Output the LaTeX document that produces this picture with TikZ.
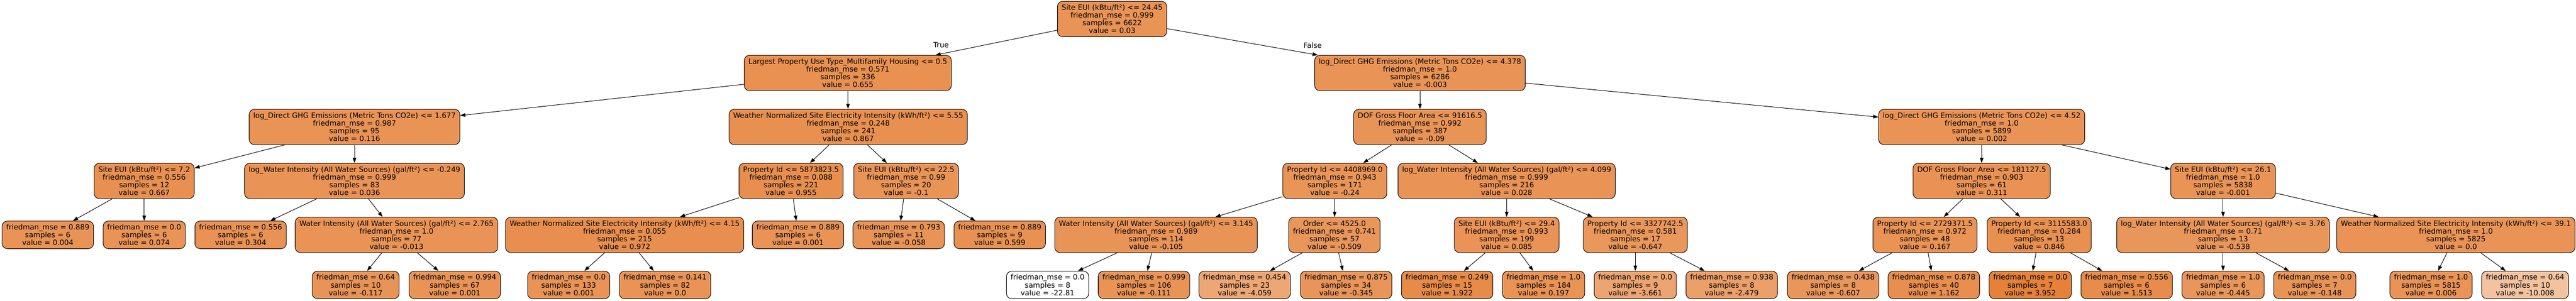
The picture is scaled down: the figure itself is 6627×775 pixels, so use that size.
\documentclass[tikz,border=0pt]{standalone}
\usepackage{fontspec}
\setmainfont{DejaVu Sans}
\usepackage{tikz}
\usetikzlibrary{arrows.meta}
\definecolor{treeorange}{RGB}{229,129,57}
\tikzset{
		box/.style={draw, line width=1pt, rounded corners=10pt, align=center,
			inner xsep=8pt, inner ysep=0pt, font=\fontsize{14}{15}\selectfont},
		split/.style={box, minimum height=68.25pt},
		leaf/.style={box, minimum height=53.25pt},
		tint/.style={/utils/exec={\pgfmathsetmacro\tintpct{(#1+22.81)*100/26.762}},
			fill=treeorange!\tintpct!white},
		branch/.style={font=\fontsize{14}{15}\selectfont, inner sep=0pt}
	}

\begin{document}
\begin{tikzpicture}[x=0.75pt, y=-0.75pt, >={Triangle[length=10pt,width=7pt]}, line width=1pt]
				\useasboundingbox (0,0) rectangle (6627,775);

				% depth 0 and 1
				\node[split, tint=0.03]   (n0)  at (2861,49)  {Site EUI (kBtu/ft²) <= 24.45\\friedman\_mse = 0.999\\samples = 6622\\value = 0.03};
				\node[split, tint=0.655]  (n1)  at (2181,188) {Largest Property Use Type\_Multifamily Housing <= 0.5\\friedman\_mse = 0.571\\samples = 336\\value = 0.655};
				\node[split, tint=-0.003] (n20) at (3653,188) {log\_Direct GHG Emissions (Metric Tons CO2e) <= 4.378\\friedman\_mse = 1.0\\samples = 6286\\value = -0.003};

				% depth 2
				\node[split, tint=0.116]  (n2)  at (912,327)  {log\_Direct GHG Emissions (Metric Tons CO2e) <= 1.677\\friedman\_mse = 0.987\\samples = 95\\value = 0.116};
				\node[split, tint=0.867]  (n11) at (2182,327) {Weather Normalized Site Electricity Intensity (kWh/ft²) <= 5.55\\friedman\_mse = 0.248\\samples = 241\\value = 0.867};
				\node[split, tint=-0.09]  (n21) at (3653,327) {DOF Gross Floor Area <= 91616.5\\friedman\_mse = 0.992\\samples = 387\\value = -0.09};
				\node[split, tint=0.002]  (n36) at (5098,327) {log\_Direct GHG Emissions (Metric Tons CO2e) <= 4.52\\friedman\_mse = 1.0\\samples = 5899\\value = 0.002};

				% depth 3
				\node[split, tint=0.667]  (n3)  at (371,466)  {Site EUI (kBtu/ft²) <= 7.2\\friedman\_mse = 0.556\\samples = 12\\value = 0.667};
				\node[split, tint=0.036]  (n6)  at (912,466)  {log\_Water Intensity (All Water Sources) (gal/ft²) <= -0.249\\friedman\_mse = 0.999\\samples = 83\\value = 0.036};
				\node[split, tint=0.955]  (n12) at (2035,466) {Property Id <= 5873823.5\\friedman\_mse = 0.088\\samples = 221\\value = 0.955};
				\node[split, tint=-0.1]   (n17) at (2331,466) {Site EUI (kBtu/ft²) <= 22.5\\friedman\_mse = 0.99\\samples = 20\\value = -0.1};
				\node[split, tint=-0.24]  (n22) at (3434,466) {Property Id <= 4408969.0\\friedman\_mse = 0.943\\samples = 171\\value = -0.24};
				\node[split, tint=0.028]  (n29) at (3876,466) {log\_Water Intensity (All Water Sources) (gal/ft²) <= 4.099\\friedman\_mse = 0.999\\samples = 216\\value = 0.028};
				\node[split, tint=0.311]  (n37) at (5098,466) {DOF Gross Floor Area <= 181127.5\\friedman\_mse = 0.903\\samples = 61\\value = 0.311};
				\node[split, tint=-0.001] (n44) at (5719,466) {Site EUI (kBtu/ft²) <= 26.1\\friedman\_mse = 1.0\\samples = 5838\\value = -0.001};

				% depth 4
				\node[leaf, tint=0.004]   (n4)  at (123,605)  {friedman\_mse = 0.889\\samples = 6\\value = 0.004};
				\node[leaf, tint=0.074]   (n5)  at (371,605)  {friedman\_mse = 0.0\\samples = 6\\value = 0.074};
				\node[leaf, tint=0.304]   (n7)  at (619,605)  {friedman\_mse = 0.556\\samples = 6\\value = 0.304};
				\node[split, tint=-0.013] (n8)  at (1020,605) {Water Intensity (All Water Sources) (gal/ft²) <= 2.765\\friedman\_mse = 1.0\\samples = 77\\value = -0.013};
				\node[split, tint=0.972]  (n13) at (1607,605) {Weather Normalized Site Electricity Intensity (kWh/ft²) <= 4.15\\friedman\_mse = 0.055\\samples = 215\\value = 0.972};
				\node[leaf, tint=0.001]   (n16) at (2053,605) {friedman\_mse = 0.889\\samples = 6\\value = 0.001};
				\node[leaf, tint=-0.058]  (n18) at (2312,605) {friedman\_mse = 0.793\\samples = 11\\value = -0.058};
				\node[leaf, tint=0.599]   (n19) at (2572,605) {friedman\_mse = 0.889\\samples = 9\\value = 0.599};
				\node[split, tint=-0.105] (n23) at (2974,605) {Water Intensity (All Water Sources) (gal/ft²) <= 3.145\\friedman\_mse = 0.989\\samples = 114\\value = -0.105};
				\node[split, tint=-0.509] (n26) at (3433,605) {Order <= 4525.0\\friedman\_mse = 0.741\\samples = 57\\value = -0.509};
				\node[split, tint=0.085]  (n30) at (3876,605) {Site EUI (kBtu/ft²) <= 29.4\\friedman\_mse = 0.993\\samples = 199\\value = 0.085};
				\node[split, tint=-0.647] (n33) at (4207,605) {Property Id <= 3327742.5\\friedman\_mse = 0.581\\samples = 17\\value = -0.647};
				\node[split, tint=0.167]  (n38) at (4952,605) {Property Id <= 2729371.5\\friedman\_mse = 0.972\\samples = 48\\value = 0.167};
				\node[split, tint=0.846]  (n41) at (5246,605) {Property Id <= 3115583.0\\friedman\_mse = 0.284\\samples = 13\\value = 0.846};
				\node[split, tint=-0.538] (n45) at (5719,605) {log\_Water Intensity (All Water Sources) (gal/ft²) <= 3.76\\friedman\_mse = 0.71\\samples = 13\\value = -0.538};
				\node[split, tint=0.0]    (n48) at (6318,605) {Weather Normalized Site Electricity Intensity (kWh/ft²) <= 39.1\\friedman\_mse = 1.0\\samples = 5825\\value = 0.0};

				% depth 5
				\node[leaf, tint=-0.117]  (n9)  at (915,734)  {friedman\_mse = 0.64\\samples = 10\\value = -0.117};
				\node[leaf, tint=0.001]   (n10) at (1170,734) {friedman\_mse = 0.994\\samples = 67\\value = 0.001};
				\node[leaf, tint=0.001]   (n14) at (1463,734) {friedman\_mse = 0.0\\samples = 133\\value = 0.001};
				\node[leaf, tint=0.0]     (n15) at (1711,734) {friedman\_mse = 0.141\\samples = 82\\value = 0.0};
				\node[leaf, tint=-22.81]  (n24) at (2695,734) {friedman\_mse = 0.0\\samples = 8\\value = -22.81};
				\node[leaf, tint=-0.111]  (n25) at (2943,734) {friedman\_mse = 0.999\\samples = 106\\value = -0.111};
				\node[leaf, tint=-4.059]  (n27) at (3202,734) {friedman\_mse = 0.454\\samples = 23\\value = -4.059};
				\node[leaf, tint=-0.345]  (n28) at (3463,734) {friedman\_mse = 0.875\\samples = 34\\value = -0.345};
				\node[leaf, tint=1.922]   (n31) at (3723,734) {friedman\_mse = 0.249\\samples = 15\\value = 1.922};
				\node[leaf, tint=0.197]   (n32) at (3971,734) {friedman\_mse = 1.0\\samples = 184\\value = 0.197};
				\node[leaf, tint=-3.661]  (n34) at (4207,734) {friedman\_mse = 0.0\\samples = 9\\value = -3.661};
				\node[leaf, tint=-2.479]  (n35) at (4455,734) {friedman\_mse = 0.938\\samples = 8\\value = -2.479};
				\node[leaf, tint=-0.607]  (n39) at (4716,734) {friedman\_mse = 0.438\\samples = 8\\value = -0.607};
				\node[leaf, tint=1.162]   (n40) at (4975,734) {friedman\_mse = 0.878\\samples = 40\\value = 1.162};
				\node[leaf, tint=3.952]   (n42) at (5223,734) {friedman\_mse = 0.0\\samples = 7\\value = 3.952};
				\node[leaf, tint=1.513]   (n43) at (5471,734) {friedman\_mse = 0.556\\samples = 6\\value = 1.513};
				\node[leaf, tint=-0.445]  (n46) at (5719,734) {friedman\_mse = 1.0\\samples = 6\\value = -0.445};
				\node[leaf, tint=-0.148]  (n47) at (5955,734) {friedman\_mse = 0.0\\samples = 7\\value = -0.148};
				\node[leaf, tint=0.006]   (n49) at (6254,734) {friedman\_mse = 1.0\\samples = 5815\\value = 0.006};
				\node[leaf, tint=-10.008] (n50) at (6496,734) {friedman\_mse = 0.64\\samples = 10\\value = -10.008};

				\node[branch] (yes) at (2421,116) {True};
				\node[branch] (no)  at (3377,117) {False};

				\path[->] (n0)  edge (n1)  edge (n20);
				\path[->] (n1)  edge (n2)  edge (n11);
				\path[->] (n2)  edge (n3)  edge (n6);
				\path[->] (n3)  edge (n4)  edge (n5);
				\path[->] (n6)  edge (n7)  edge (n8);
				\path[->] (n8)  edge (n9)  edge (n10);
				\path[->] (n11) edge (n12) edge (n17);
				\path[->] (n12) edge (n13) edge (n16);
				\path[->] (n13) edge (n14) edge (n15);
				\path[->] (n17) edge (n18) edge (n19);
				\path[->] (n20) edge (n21) edge (n36);
				\path[->] (n21) edge (n22) edge (n29);
				\path[->] (n22) edge (n23) edge (n26);
				\path[->] (n23) edge (n24) edge (n25);
				\path[->] (n26) edge (n27) edge (n28);
				\path[->] (n29) edge (n30) edge (n33);
				\path[->] (n30) edge (n31) edge (n32);
				\path[->] (n33) edge (n34) edge (n35);
				\path[->] (n36) edge (n37) edge (n44);
				\path[->] (n37) edge (n38) edge (n41);
				\path[->] (n38) edge (n39) edge (n40);
				\path[->] (n41) edge (n42) edge (n43);
				\path[->] (n44) edge (n45) edge (n48);
				\path[->] (n45) edge (n46) edge (n47);
				\path[->] (n48) edge (n49) edge (n50);
			\end{tikzpicture}
\end{document}
